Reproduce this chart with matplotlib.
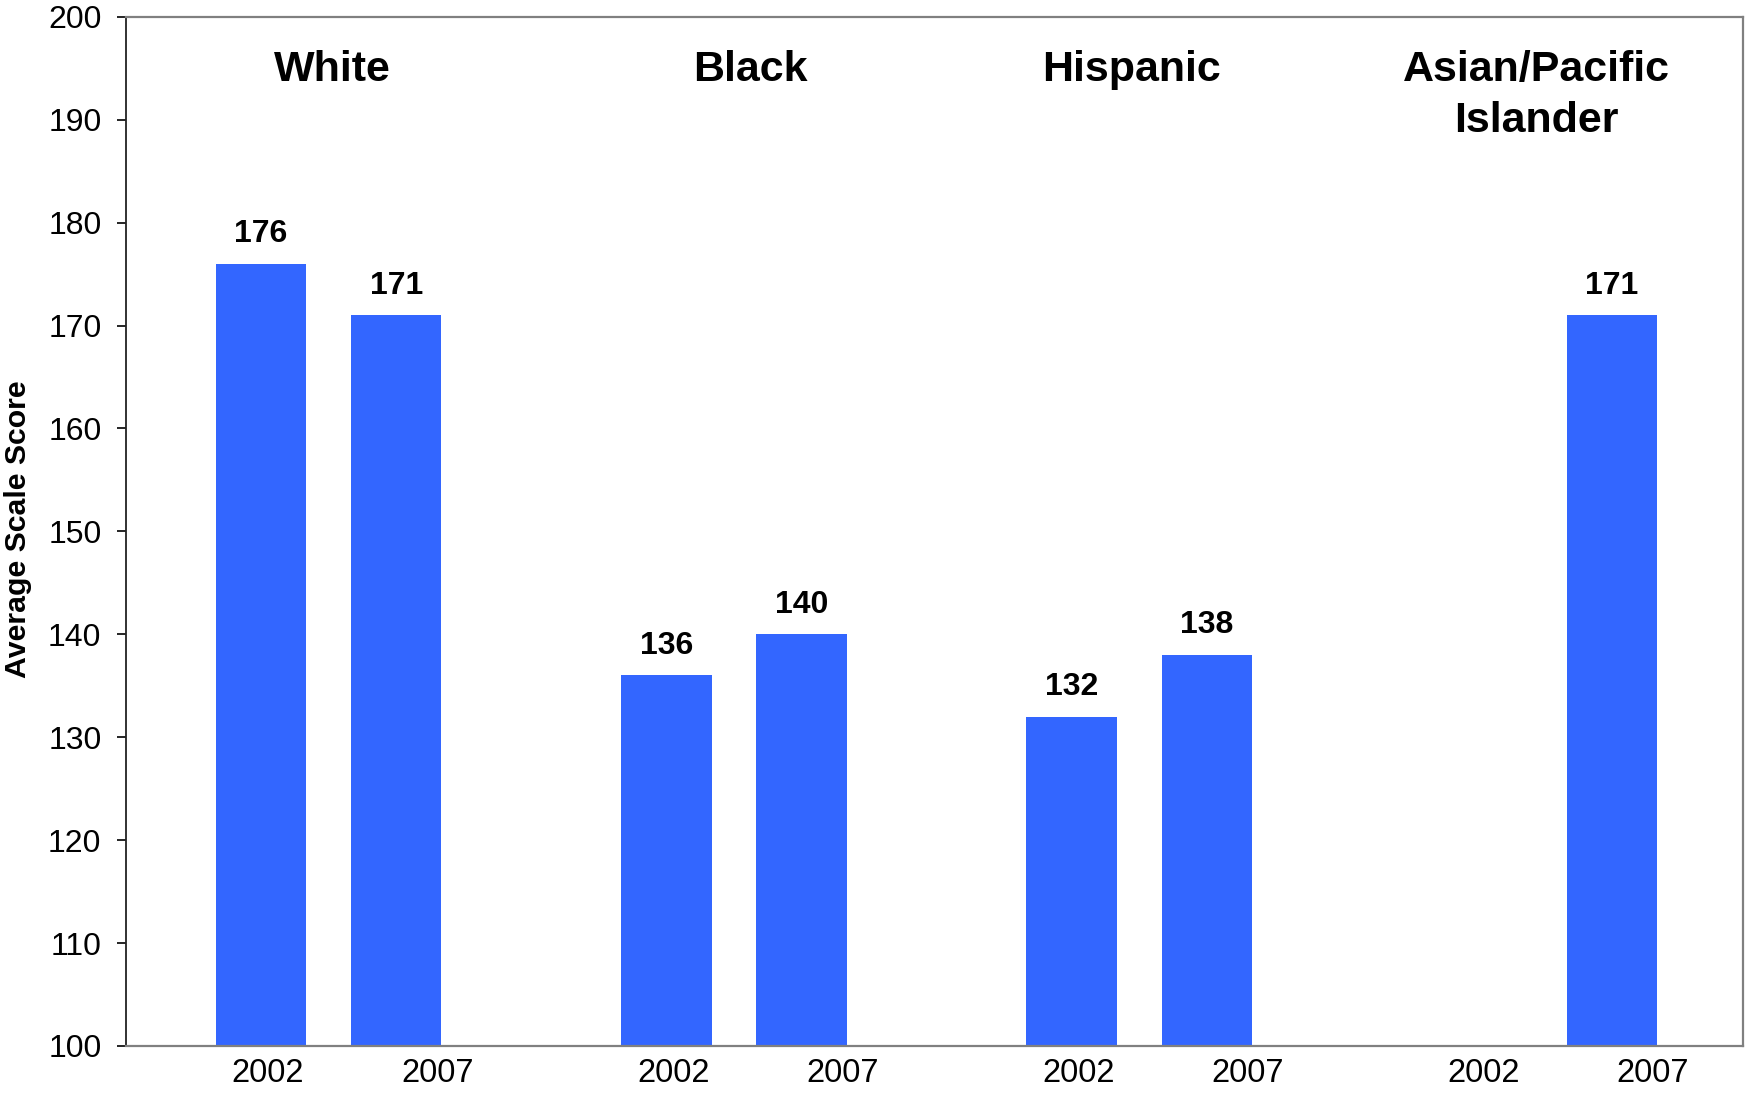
import matplotlib
matplotlib.use("Agg")
import matplotlib.pyplot as plt
import numpy as np

groups = ["White", "Black", "Hispanic", "Asian/Pacific\nIslander"]
years = ["2002", "2007"]
scores_2002 = [176, 136, 132, None]
scores_2007 = [171, 140, 138, 171]

plt.rcParams['font.family'] = ['Liberation Sans', 'DejaVu Sans']

fig = plt.figure(figsize=(17.45, 10.94), dpi=100)
ax = fig.add_axes([0.0722, 0.0439, 0.9267, 0.9408])

bar_color = "#3366FF"
width = 0.223
offsets = [1/3, 2/3]
label_offsets = [0.350, 0.768]
series = [scores_2002, scores_2007]

tick_pos, tick_lab = [], []
for s_idx, vals in enumerate(series):
    for g_idx, v in enumerate(vals):
        x = g_idx + offsets[s_idx]
        tick_pos.append(g_idx + label_offsets[s_idx])
        tick_lab.append(years[s_idx])
        if v is None:
            continue
        ax.bar(x, v - 100, bottom=100, width=width, color=bar_color, zorder=2)
        ax.annotate(str(v), (x, v), xytext=(0, 15.5), textcoords="offset points",
                    ha="center", va="baseline", fontsize=23, fontweight="bold")

label_shift = [0.01, 0.04, -0.02, -0.02]
for g_idx, name in enumerate(groups):
    ax.text(g_idx + 0.5 + label_shift[g_idx], 196.8, name, ha="center", va="top",
            fontsize=31, fontweight="bold", linespacing=1.36)

ax.set_xlim(0, 3.99)
ax.set_ylim(100, 200)
ax.set_yticks(np.arange(100, 201, 10))
ax.set_xticks(tick_pos)
ax.set_xticklabels(tick_lab)
ax.tick_params(axis="x", length=0, pad=9, labelsize=23.5)
ax.tick_params(axis="y", length=6.7, width=1.2, pad=11, labelsize=23, direction="out")

for side in ["top", "right", "bottom"]:
    ax.spines[side].set_color("#808080")
    ax.spines[side].set_linewidth(1.6)
ax.spines["left"].set_color("#222222")
ax.spines["left"].set_linewidth(1.3)

fig.text(0.0105, 0.516, "Average Scale Score", rotation=90, ha="center", va="center",
         fontsize=21.8, fontweight="bold")

fig.savefig("out.png", dpi=100, facecolor="white")
